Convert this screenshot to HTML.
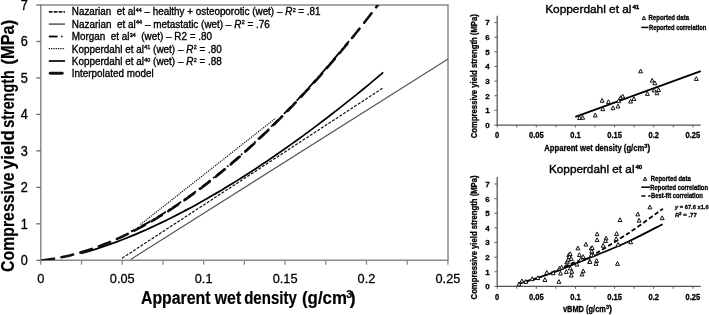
<!DOCTYPE html>
<html><head><meta charset="utf-8"><style>
html,body{margin:0;padding:0;background:#fff;width:709px;height:315px;overflow:hidden}
body{position:relative;font-family:"Liberation Sans",sans-serif}
.i text{stroke:#000;stroke-width:0.3}
</style></head><body>
<svg width="709" height="315" viewBox="0 0 709 315" style="position:absolute;left:0;top:0;will-change:transform">
<defs><clipPath id="pc"><rect x="40.8" y="5" width="407.2" height="255.3"/></clipPath></defs>
<g font-family="Liberation Sans, sans-serif">
<path d="M40.8,5 H448 V260.3 H40.8 Z" fill="none" stroke="#8a8a8a" stroke-width="1.5"/>
<line x1="36.3" y1="260.30" x2="40.8" y2="260.30" stroke="#6a6a6a" stroke-width="1.3"/>
<text transform="translate(27.7,265.20) scale(0.92,1)" font-size="13.8" text-anchor="end" fill="#000" stroke="#000" stroke-width="0.35">0</text>
<line x1="36.3" y1="223.83" x2="40.8" y2="223.83" stroke="#6a6a6a" stroke-width="1.3"/>
<text transform="translate(27.7,228.73) scale(0.92,1)" font-size="13.8" text-anchor="end" fill="#000" stroke="#000" stroke-width="0.35">1</text>
<line x1="36.3" y1="187.36" x2="40.8" y2="187.36" stroke="#6a6a6a" stroke-width="1.3"/>
<text transform="translate(27.7,192.26) scale(0.92,1)" font-size="13.8" text-anchor="end" fill="#000" stroke="#000" stroke-width="0.35">2</text>
<line x1="36.3" y1="150.89" x2="40.8" y2="150.89" stroke="#6a6a6a" stroke-width="1.3"/>
<text transform="translate(27.7,155.79) scale(0.92,1)" font-size="13.8" text-anchor="end" fill="#000" stroke="#000" stroke-width="0.35">3</text>
<line x1="36.3" y1="114.42" x2="40.8" y2="114.42" stroke="#6a6a6a" stroke-width="1.3"/>
<text transform="translate(27.7,119.32) scale(0.92,1)" font-size="13.8" text-anchor="end" fill="#000" stroke="#000" stroke-width="0.35">4</text>
<line x1="36.3" y1="77.95" x2="40.8" y2="77.95" stroke="#6a6a6a" stroke-width="1.3"/>
<text transform="translate(27.7,82.85) scale(0.92,1)" font-size="13.8" text-anchor="end" fill="#000" stroke="#000" stroke-width="0.35">5</text>
<line x1="36.3" y1="41.48" x2="40.8" y2="41.48" stroke="#6a6a6a" stroke-width="1.3"/>
<text transform="translate(27.7,46.38) scale(0.92,1)" font-size="13.8" text-anchor="end" fill="#000" stroke="#000" stroke-width="0.35">6</text>
<line x1="36.3" y1="5.01" x2="40.8" y2="5.01" stroke="#6a6a6a" stroke-width="1.3"/>
<text transform="translate(27.7,9.91) scale(0.92,1)" font-size="13.8" text-anchor="end" fill="#000" stroke="#000" stroke-width="0.35">7</text>
<line x1="40.80" y1="260.3" x2="40.80" y2="264.7" stroke="#8a8a8a" stroke-width="1.3"/>
<line x1="81.51" y1="260.3" x2="81.51" y2="264.7" stroke="#8a8a8a" stroke-width="1.3"/>
<line x1="122.22" y1="260.3" x2="122.22" y2="264.7" stroke="#8a8a8a" stroke-width="1.3"/>
<line x1="162.93" y1="260.3" x2="162.93" y2="264.7" stroke="#8a8a8a" stroke-width="1.3"/>
<line x1="203.64" y1="260.3" x2="203.64" y2="264.7" stroke="#8a8a8a" stroke-width="1.3"/>
<line x1="244.35" y1="260.3" x2="244.35" y2="264.7" stroke="#8a8a8a" stroke-width="1.3"/>
<line x1="285.06" y1="260.3" x2="285.06" y2="264.7" stroke="#8a8a8a" stroke-width="1.3"/>
<line x1="325.77" y1="260.3" x2="325.77" y2="264.7" stroke="#8a8a8a" stroke-width="1.3"/>
<line x1="366.48" y1="260.3" x2="366.48" y2="264.7" stroke="#8a8a8a" stroke-width="1.3"/>
<line x1="407.19" y1="260.3" x2="407.19" y2="264.7" stroke="#8a8a8a" stroke-width="1.3"/>
<line x1="447.90" y1="260.3" x2="447.90" y2="264.7" stroke="#8a8a8a" stroke-width="1.3"/>
<text transform="translate(40.80,283.3) scale(0.94,1)" font-size="13.6" text-anchor="middle" fill="#000" stroke="#000" stroke-width="0.3">0</text>
<text transform="translate(122.22,283.3) scale(0.94,1)" font-size="13.6" text-anchor="middle" fill="#000" stroke="#000" stroke-width="0.3">0.05</text>
<text transform="translate(203.64,283.3) scale(0.94,1)" font-size="13.6" text-anchor="middle" fill="#000" stroke="#000" stroke-width="0.3">0.1</text>
<text transform="translate(285.06,283.3) scale(0.94,1)" font-size="13.6" text-anchor="middle" fill="#000" stroke="#000" stroke-width="0.3">0.15</text>
<text transform="translate(366.48,283.3) scale(0.94,1)" font-size="13.6" text-anchor="middle" fill="#000" stroke="#000" stroke-width="0.3">0.2</text>
<text transform="translate(447.90,283.3) scale(0.94,1)" font-size="13.6" text-anchor="middle" fill="#000" stroke="#000" stroke-width="0.3">0.25</text>
<g transform="translate(13.6,271.3) rotate(-90)" font-size="17.6" font-weight="bold" stroke="#000" stroke-width="0.2"><text x="-0.6" y="0" textLength="99.4" lengthAdjust="spacingAndGlyphs">Compressive</text><text x="101.9" y="0" textLength="39.2" lengthAdjust="spacingAndGlyphs">yield</text><text x="143.6" y="0" textLength="57.4" lengthAdjust="spacingAndGlyphs">strength</text><text x="206.9" y="0" textLength="44.6" lengthAdjust="spacingAndGlyphs">(MPa)</text></g>
<g font-size="17.6" font-weight="bold" stroke="#000" stroke-width="0.2"><text x="141" y="304.2" textLength="100.2" lengthAdjust="spacingAndGlyphs">Apparent wet</text><text x="244.2" y="304.2" textLength="52.6" lengthAdjust="spacingAndGlyphs">density</text><text x="302" y="304.2" textLength="45" lengthAdjust="spacingAndGlyphs">(g/cm</text><text x="346.2" y="297.8" font-size="10.8">3</text><text x="349.8" y="304.2">)</text></g>
<line x1="130.7" y1="259.4" x2="448" y2="58.9" stroke="#555" stroke-width="1.15"/>
<line x1="122.1" y1="258.2" x2="383.2" y2="87.8" stroke="#111" stroke-width="1.2" stroke-dasharray="2.9,1.5"/>
<path d="M80.70,253.45 L85.74,252.07 L90.78,250.60 L95.82,249.05 L100.87,247.43 L105.91,245.73 L110.95,243.95 L115.99,242.11 L121.04,240.20 L126.08,238.22 L131.12,236.17 L136.16,234.07 L141.21,231.90 L146.25,229.68 L151.29,227.39 L156.33,225.05 L161.38,222.66 L166.42,220.20 L171.46,217.70 L176.51,215.14 L181.55,212.53 L186.59,209.87 L191.63,207.16 L196.68,204.40 L201.72,201.59 L206.76,198.73 L211.80,195.83 L216.85,192.88 L221.89,189.88 L226.93,186.84 L231.97,183.75 L237.02,180.62 L242.06,177.44 L247.10,174.22 L252.14,170.96 L257.19,167.66 L262.23,164.31 L267.27,160.92 L272.32,157.50 L277.36,154.03 L282.40,150.52 L287.44,146.97 L292.49,143.38 L297.53,139.76 L302.57,136.09 L307.61,132.39 L312.66,128.65 L317.70,124.87 L322.74,121.05 L327.78,117.20 L332.83,113.30 L337.87,109.38 L342.91,105.41 L347.95,101.41 L353.00,97.38 L358.04,93.31 L363.08,89.20 L368.12,85.06 L373.17,80.89 L378.21,76.68 L383.25,72.44" fill="none" stroke="#000" stroke-width="1.75"/>
<line x1="140.5" y1="224.5" x2="275.5" y2="118.3" stroke="#000" stroke-width="1.2" stroke-dasharray="1.1,1.1"/>
<path d="M40.8,260.3 41.00,260.47 L45.26,259.97 L49.52,259.38 L53.79,258.71 L58.05,257.94 L62.31,257.09 L66.58,256.16 L70.84,255.14 L75.10,254.03 L79.36,252.85 L83.62,251.58 L87.89,250.24 L92.15,248.81 L96.41,247.31 L100.67,245.73 L104.94,244.08 L109.20,242.35 L113.46,240.54 L117.72,238.66 L121.99,236.71 L126.25,234.68 L130.51,232.59 L134.78,230.42 L139.04,228.19 L143.30,225.88 L147.56,223.51 L151.82,221.07 L156.09,218.56 L160.35,215.99 L164.61,213.35 L168.88,210.64 L173.14,207.87 L177.40,205.04 L181.66,202.14 L185.93,199.18 L190.19,196.16 L194.45,193.07 L198.71,189.93 L202.97,186.72 L207.24,183.45 L211.50,180.12 L215.76,176.74 L220.03,173.29 L224.29,169.78 L228.55,166.21 L232.81,162.59 L237.07,158.91 L241.34,155.17 L245.60,151.37 L249.86,147.51 L254.12,143.59 L258.39,139.62 L262.65,135.59 L266.91,131.51 L271.18,127.37 L275.44,123.17 L279.70,118.91 L283.96,114.60 L288.23,110.23 L292.49,105.80 L296.75,101.31 L301.01,96.77 L305.27,92.18 L309.54,87.52 L313.80,82.81 L318.06,78.04 L322.32,73.22 L326.59,68.34 L330.85,63.40 L335.11,58.40 L339.38,53.34 L343.64,48.23 L347.90,43.05 L352.16,37.82 L356.43,32.53 L360.69,27.18 L364.95,21.77 L369.21,16.30 L373.48,10.77 L377.74,5.18 L382.00,-0.47" fill="none" stroke="#111" stroke-width="2.6" stroke-dasharray="11.9,7.6" stroke-dashoffset="-1.5" stroke-linecap="round" clip-path="url(#pc)"/>
<path d="M131.00,231.64 L133.72,230.26 L136.45,228.85 L139.18,227.41 L141.90,225.95 L144.62,224.45 L147.35,222.93 L150.07,221.38 L152.80,219.80 L155.53,218.20 L158.25,216.56 L160.97,214.90 L163.70,213.22 L166.43,211.50 L169.15,209.77 L171.88,208.00 L174.60,206.21 L177.32,204.39 L180.05,202.54 L182.78,200.67 L185.50,198.78 L188.22,196.86 L190.95,194.91 L193.68,192.94 L196.40,190.94 L199.12,188.92 L201.85,186.87 L204.57,184.80 L207.30,182.70 L210.03,180.58 L212.75,178.44 L215.47,176.27 L218.20,174.07 L220.93,171.85 L223.65,169.61 L226.38,167.34 L229.10,165.05 L231.82,162.73 L234.55,160.40 L237.28,158.03 L240.00,155.65 L242.72,153.24 L245.45,150.80 L248.18,148.34 L250.90,145.86 L253.62,143.36 L256.35,140.83 L259.07,138.28 L261.80,135.70 L264.52,133.10 L267.25,130.48 L269.98,127.84 L272.70,125.17 L275.43,122.48 L278.15,119.76 L280.88,117.03 L283.60,114.26 L286.32,111.48 L289.05,108.67 L291.77,105.84 L294.50,102.99 L297.23,100.11 L299.95,97.21 L302.68,94.29 L305.40,91.34 L308.12,88.37 L310.85,85.38 L313.57,82.36 L316.30,79.32 L319.02,76.26 L321.75,73.17 L324.48,70.06 L327.20,66.93 L329.93,63.77 L332.65,60.59 L335.38,57.39 L338.10,54.16 L340.82,50.91 L343.55,47.63 L346.27,44.33 L349.00,41.01" fill="none" stroke="#000" stroke-width="1.8" stroke-dasharray="10,3.5,1.5,3.2" stroke-dashoffset="6.25"/>
<line x1="48.8" y1="11.9" x2="65" y2="11.9" stroke="#222" stroke-width="1.6" stroke-dasharray="3.8,1.1"/>
<line x1="48.8" y1="24.1" x2="65" y2="24.1" stroke="#555" stroke-width="1.5"/>
<line x1="48.8" y1="36.5" x2="57.5" y2="36.5" stroke="#000" stroke-width="1.8"/><line x1="61" y1="36.5" x2="62.5" y2="36.5" stroke="#000" stroke-width="1.5"/>
<line x1="48.8" y1="48.6" x2="65" y2="48.6" stroke="#000" stroke-width="1.4" stroke-dasharray="1.2,1.1"/>
<line x1="48.8" y1="61.0" x2="65" y2="61.0" stroke="#000" stroke-width="1.7"/>
<line x1="50.2" y1="73.3" x2="62.2" y2="73.3" stroke="#111" stroke-width="2.9" stroke-linecap="round"/>
<text x="71.8" y="15.00" font-size="10.3" fill="#000" stroke="#000" stroke-width="0.35" xml:space="preserve" textLength="248.8" lengthAdjust="spacingAndGlyphs">Nazarian  et al<tspan font-size="5.6" dy="-3.3" dx="0.4">44</tspan><tspan dy="3.3"> – healthy + osteoporotic (wet) – </tspan><tspan font-style="italic">R</tspan><tspan font-size="5.6" dy="-3.3" dx="0.4">2</tspan><tspan dy="3.3"> = .81</tspan></text>
<text x="71.8" y="27.50" font-size="10.3" fill="#000" stroke="#000" stroke-width="0.35" xml:space="preserve" textLength="198.0" lengthAdjust="spacingAndGlyphs">Nazarian  et al<tspan font-size="5.6" dy="-3.3" dx="0.4">44</tspan><tspan dy="3.3"> – metastatic (wet) – </tspan><tspan font-style="italic">R</tspan><tspan font-size="5.6" dy="-3.3" dx="0.4">2</tspan><tspan dy="3.3"> = .76</tspan></text>
<text x="71.8" y="40.00" font-size="10.3" fill="#000" stroke="#000" stroke-width="0.35" xml:space="preserve" textLength="140.1" lengthAdjust="spacingAndGlyphs">Morgan  et al<tspan font-size="5.6" dy="-3.3" dx="0.4">34</tspan><tspan dy="3.3">  (wet) – R2 = .80</tspan></text>
<text x="71.8" y="52.50" font-size="10.3" fill="#000" stroke="#000" stroke-width="0.35" xml:space="preserve" textLength="150.0" lengthAdjust="spacingAndGlyphs">Kopperdahl et al<tspan font-size="5.6" dy="-3.3" dx="0.4">41</tspan><tspan dy="3.3"> (wet) – </tspan><tspan font-style="italic">R</tspan><tspan font-size="5.6" dy="-3.3" dx="0.4">2</tspan><tspan dy="3.3"> = .80</tspan></text>
<text x="71.8" y="64.95" font-size="10.3" fill="#000" stroke="#000" stroke-width="0.35" xml:space="preserve" textLength="150.0" lengthAdjust="spacingAndGlyphs">Kopperdahl et al<tspan font-size="5.6" dy="-3.3" dx="0.4">40</tspan><tspan dy="3.3"> (wet) – </tspan><tspan font-style="italic">R</tspan><tspan font-size="5.6" dy="-3.3" dx="0.4">2</tspan><tspan dy="3.3"> = .88</tspan></text>
<text x="71.8" y="77.40" font-size="10.3" fill="#000" stroke="#000" stroke-width="0.35" xml:space="preserve" textLength="81.8" lengthAdjust="spacingAndGlyphs">Interpolated model</text>
<g class="i">
<path d="M497.2,15.7 V125.0 H700.65" fill="none" stroke="#555" stroke-width="1.25"/>
<line x1="494.3" y1="125.00" x2="497.2" y2="125.00" stroke="#555" stroke-width="0.9"/>
<text x="489.7" y="127.90" font-size="8" font-weight="bold" text-anchor="end">0</text>
<line x1="494.3" y1="110.37" x2="497.2" y2="110.37" stroke="#555" stroke-width="0.9"/>
<text x="489.7" y="113.27" font-size="8" font-weight="bold" text-anchor="end">1</text>
<line x1="494.3" y1="95.74" x2="497.2" y2="95.74" stroke="#555" stroke-width="0.9"/>
<text x="489.7" y="98.64" font-size="8" font-weight="bold" text-anchor="end">2</text>
<line x1="494.3" y1="81.11" x2="497.2" y2="81.11" stroke="#555" stroke-width="0.9"/>
<text x="489.7" y="84.01" font-size="8" font-weight="bold" text-anchor="end">3</text>
<line x1="494.3" y1="66.48" x2="497.2" y2="66.48" stroke="#555" stroke-width="0.9"/>
<text x="489.7" y="69.38" font-size="8" font-weight="bold" text-anchor="end">4</text>
<line x1="494.3" y1="51.85" x2="497.2" y2="51.85" stroke="#555" stroke-width="0.9"/>
<text x="489.7" y="54.75" font-size="8" font-weight="bold" text-anchor="end">5</text>
<line x1="494.3" y1="37.22" x2="497.2" y2="37.22" stroke="#555" stroke-width="0.9"/>
<text x="489.7" y="40.12" font-size="8" font-weight="bold" text-anchor="end">6</text>
<line x1="494.3" y1="22.59" x2="497.2" y2="22.59" stroke="#555" stroke-width="0.9"/>
<text x="489.7" y="25.49" font-size="8" font-weight="bold" text-anchor="end">7</text>
<line x1="497.20" y1="125.0" x2="497.20" y2="127.4" stroke="#555" stroke-width="0.9"/>
<line x1="516.76" y1="125.0" x2="516.76" y2="127.4" stroke="#555" stroke-width="0.9"/>
<line x1="536.33" y1="125.0" x2="536.33" y2="127.4" stroke="#555" stroke-width="0.9"/>
<line x1="555.89" y1="125.0" x2="555.89" y2="127.4" stroke="#555" stroke-width="0.9"/>
<line x1="575.45" y1="125.0" x2="575.45" y2="127.4" stroke="#555" stroke-width="0.9"/>
<line x1="595.01" y1="125.0" x2="595.01" y2="127.4" stroke="#555" stroke-width="0.9"/>
<line x1="614.58" y1="125.0" x2="614.58" y2="127.4" stroke="#555" stroke-width="0.9"/>
<line x1="634.14" y1="125.0" x2="634.14" y2="127.4" stroke="#555" stroke-width="0.9"/>
<line x1="653.70" y1="125.0" x2="653.70" y2="127.4" stroke="#555" stroke-width="0.9"/>
<line x1="673.26" y1="125.0" x2="673.26" y2="127.4" stroke="#555" stroke-width="0.9"/>
<line x1="692.83" y1="125.0" x2="692.83" y2="127.4" stroke="#555" stroke-width="0.9"/>
<text transform="translate(497.20,138.10) scale(0.9,1)" font-size="8.4" font-weight="bold" text-anchor="middle">0</text>
<text transform="translate(536.33,138.10) scale(0.9,1)" font-size="8.4" font-weight="bold" text-anchor="middle">0.05</text>
<text transform="translate(575.45,138.10) scale(0.9,1)" font-size="8.4" font-weight="bold" text-anchor="middle">0.1</text>
<text transform="translate(614.58,138.10) scale(0.9,1)" font-size="8.4" font-weight="bold" text-anchor="middle">0.15</text>
<text transform="translate(653.70,138.10) scale(0.9,1)" font-size="8.4" font-weight="bold" text-anchor="middle">0.2</text>
<text transform="translate(692.83,138.10) scale(0.9,1)" font-size="8.4" font-weight="bold" text-anchor="middle">0.25</text>
<text transform="translate(477.2,138.2) rotate(-90)" font-size="8.5" font-weight="bold" textLength="124" lengthAdjust="spacingAndGlyphs">Compressive yield strength (MPa)</text>
<text x="545.2" y="12.8" font-size="11.8" fill="#000" style="stroke:#000;stroke-width:0.4"><tspan textLength="86.3" lengthAdjust="spacingAndGlyphs">Kopperdahl et al</tspan><tspan font-size="6.2" dy="-4.0" dx="0.9" font-weight="bold">41</tspan></text>
<text x="544.3" y="150.50" font-size="9" font-weight="bold"><tspan textLength="100" lengthAdjust="spacingAndGlyphs">Apparent wet density (g/cm</tspan><tspan font-size="5.5" dy="-3">3</tspan><tspan dy="3">)</tspan></text>
<line x1="575.3" y1="116.9" x2="700.8" y2="71.1" stroke="#000" stroke-width="1.8"/>
<path d="M643.90,16.17 L645.60,19.53 L642.20,19.53 Z" fill="#fff" stroke="#111" stroke-width="1"/>
<text x="648.5" y="20.2" font-size="6.6" font-weight="bold" textLength="40.5" lengthAdjust="spacingAndGlyphs">Reported data</text>
<line x1="641.3" y1="27.4" x2="648.5" y2="27.4" stroke="#000" stroke-width="1.5"/>
<text x="649" y="29.7" font-size="6.6" font-weight="bold" textLength="57.4" lengthAdjust="spacingAndGlyphs">Reported correlation</text>
<path d="M579.50,115.75 L581.45,119.55 L577.55,119.55 Z" fill="#fff" stroke="#111" stroke-width="1"/>
<path d="M582.70,115.45 L584.65,119.25 L580.75,119.25 Z" fill="#fff" stroke="#111" stroke-width="1"/>
<path d="M595.20,113.15 L597.15,116.95 L593.25,116.95 Z" fill="#fff" stroke="#111" stroke-width="1"/>
<path d="M602.10,98.45 L604.05,102.25 L600.15,102.25 Z" fill="#fff" stroke="#111" stroke-width="1"/>
<path d="M602.80,106.85 L604.75,110.66 L600.85,110.66 Z" fill="#fff" stroke="#111" stroke-width="1"/>
<path d="M608.40,99.75 L610.35,103.55 L606.45,103.55 Z" fill="#fff" stroke="#111" stroke-width="1"/>
<path d="M613.00,105.85 L614.95,109.66 L611.05,109.66 Z" fill="#fff" stroke="#111" stroke-width="1"/>
<path d="M618.00,104.15 L619.95,107.95 L616.05,107.95 Z" fill="#fff" stroke="#111" stroke-width="1"/>
<path d="M618.70,98.85 L620.65,102.66 L616.75,102.66 Z" fill="#fff" stroke="#111" stroke-width="1"/>
<path d="M620.60,95.65 L622.55,99.45 L618.65,99.45 Z" fill="#fff" stroke="#111" stroke-width="1"/>
<path d="M622.70,94.15 L624.65,97.95 L620.75,97.95 Z" fill="#fff" stroke="#111" stroke-width="1"/>
<path d="M630.60,99.25 L632.55,103.05 L628.65,103.05 Z" fill="#fff" stroke="#111" stroke-width="1"/>
<path d="M633.90,96.65 L635.85,100.45 L631.95,100.45 Z" fill="#fff" stroke="#111" stroke-width="1"/>
<path d="M640.60,69.05 L642.55,72.85 L638.65,72.85 Z" fill="#fff" stroke="#111" stroke-width="1"/>
<path d="M647.40,91.55 L649.35,95.35 L645.45,95.35 Z" fill="#fff" stroke="#111" stroke-width="1"/>
<path d="M652.20,78.25 L654.15,82.05 L650.25,82.05 Z" fill="#fff" stroke="#111" stroke-width="1"/>
<path d="M654.90,80.95 L656.85,84.75 L652.95,84.75 Z" fill="#fff" stroke="#111" stroke-width="1"/>
<path d="M654.10,88.05 L656.05,91.85 L652.15,91.85 Z" fill="#fff" stroke="#111" stroke-width="1"/>
<path d="M657.00,90.95 L658.95,94.75 L655.05,94.75 Z" fill="#fff" stroke="#111" stroke-width="1"/>
<path d="M658.60,87.75 L660.55,91.55 L656.65,91.55 Z" fill="#fff" stroke="#111" stroke-width="1"/>
<path d="M696.30,76.65 L698.25,80.45 L694.35,80.45 Z" fill="#fff" stroke="#111" stroke-width="1"/>
<path d="M497.2,177.1 V286.4 H700.65" fill="none" stroke="#555" stroke-width="1.25"/>
<line x1="494.3" y1="286.40" x2="497.2" y2="286.40" stroke="#555" stroke-width="0.9"/>
<text x="489.7" y="289.30" font-size="8" font-weight="bold" text-anchor="end">0</text>
<line x1="494.3" y1="271.77" x2="497.2" y2="271.77" stroke="#555" stroke-width="0.9"/>
<text x="489.7" y="274.67" font-size="8" font-weight="bold" text-anchor="end">1</text>
<line x1="494.3" y1="257.14" x2="497.2" y2="257.14" stroke="#555" stroke-width="0.9"/>
<text x="489.7" y="260.04" font-size="8" font-weight="bold" text-anchor="end">2</text>
<line x1="494.3" y1="242.51" x2="497.2" y2="242.51" stroke="#555" stroke-width="0.9"/>
<text x="489.7" y="245.41" font-size="8" font-weight="bold" text-anchor="end">3</text>
<line x1="494.3" y1="227.88" x2="497.2" y2="227.88" stroke="#555" stroke-width="0.9"/>
<text x="489.7" y="230.78" font-size="8" font-weight="bold" text-anchor="end">4</text>
<line x1="494.3" y1="213.25" x2="497.2" y2="213.25" stroke="#555" stroke-width="0.9"/>
<text x="489.7" y="216.15" font-size="8" font-weight="bold" text-anchor="end">5</text>
<line x1="494.3" y1="198.62" x2="497.2" y2="198.62" stroke="#555" stroke-width="0.9"/>
<text x="489.7" y="201.52" font-size="8" font-weight="bold" text-anchor="end">6</text>
<line x1="494.3" y1="183.99" x2="497.2" y2="183.99" stroke="#555" stroke-width="0.9"/>
<text x="489.7" y="186.89" font-size="8" font-weight="bold" text-anchor="end">7</text>
<line x1="497.20" y1="286.4" x2="497.20" y2="288.79999999999995" stroke="#555" stroke-width="0.9"/>
<line x1="516.76" y1="286.4" x2="516.76" y2="288.79999999999995" stroke="#555" stroke-width="0.9"/>
<line x1="536.33" y1="286.4" x2="536.33" y2="288.79999999999995" stroke="#555" stroke-width="0.9"/>
<line x1="555.89" y1="286.4" x2="555.89" y2="288.79999999999995" stroke="#555" stroke-width="0.9"/>
<line x1="575.45" y1="286.4" x2="575.45" y2="288.79999999999995" stroke="#555" stroke-width="0.9"/>
<line x1="595.01" y1="286.4" x2="595.01" y2="288.79999999999995" stroke="#555" stroke-width="0.9"/>
<line x1="614.58" y1="286.4" x2="614.58" y2="288.79999999999995" stroke="#555" stroke-width="0.9"/>
<line x1="634.14" y1="286.4" x2="634.14" y2="288.79999999999995" stroke="#555" stroke-width="0.9"/>
<line x1="653.70" y1="286.4" x2="653.70" y2="288.79999999999995" stroke="#555" stroke-width="0.9"/>
<line x1="673.26" y1="286.4" x2="673.26" y2="288.79999999999995" stroke="#555" stroke-width="0.9"/>
<line x1="692.83" y1="286.4" x2="692.83" y2="288.79999999999995" stroke="#555" stroke-width="0.9"/>
<text transform="translate(497.20,299.50) scale(0.9,1)" font-size="8.4" font-weight="bold" text-anchor="middle">0</text>
<text transform="translate(536.33,299.50) scale(0.9,1)" font-size="8.4" font-weight="bold" text-anchor="middle">0.05</text>
<text transform="translate(575.45,299.50) scale(0.9,1)" font-size="8.4" font-weight="bold" text-anchor="middle">0.1</text>
<text transform="translate(614.58,299.50) scale(0.9,1)" font-size="8.4" font-weight="bold" text-anchor="middle">0.15</text>
<text transform="translate(653.70,299.50) scale(0.9,1)" font-size="8.4" font-weight="bold" text-anchor="middle">0.2</text>
<text transform="translate(692.83,299.50) scale(0.9,1)" font-size="8.4" font-weight="bold" text-anchor="middle">0.25</text>
<text transform="translate(477.2,299.4) rotate(-90)" font-size="8.5" font-weight="bold" textLength="124" lengthAdjust="spacingAndGlyphs">Compressive yield strength (MPa)</text>
<text x="549" y="173.2" font-size="11.8" fill="#000" style="stroke:#000;stroke-width:0.4"><tspan textLength="85.5" lengthAdjust="spacingAndGlyphs">Kopperdahl et al</tspan><tspan font-size="6.2" dy="-4.0" dx="0.9" font-weight="bold">40</tspan></text>
<text x="562.9" y="311.90" font-size="9" font-weight="bold"><tspan textLength="43" lengthAdjust="spacingAndGlyphs">vBMD (g/cm</tspan><tspan font-size="5.5" dy="-3">3</tspan><tspan dy="3">)</tspan></text>
<path d="M518.30,283.30 C521.42,282.42 530.88,279.90 537.00,278.00 C543.12,276.10 548.67,274.30 555.00,271.90 C561.33,269.50 568.33,266.30 575.00,263.60 C581.67,260.90 586.17,259.35 595.00,255.70 C603.83,252.05 616.73,246.95 628.00,241.70 C639.27,236.45 656.83,227.12 662.60,224.20" fill="none" stroke="#000" stroke-width="1.8"/>
<path d="M518.30,284.00 C521.42,283.05 530.88,280.47 537.00,278.30 C543.12,276.13 548.67,273.72 555.00,271.00 C561.33,268.28 569.50,264.18 575.00,262.00 C580.50,259.82 579.17,262.65 588.00,257.90 C596.83,253.15 615.52,241.70 628.00,233.50 C640.48,225.30 657.08,212.83 662.90,208.70" fill="none" stroke="#000" stroke-width="1.8" stroke-dasharray="4.5,2.5"/>
<path d="M645.00,176.97 L646.70,180.33 L643.30,180.33 Z" fill="#fff" stroke="#111" stroke-width="1"/>
<text x="650.8" y="181.1" font-size="6.6" font-weight="bold" textLength="39.9" lengthAdjust="spacingAndGlyphs">Reported data</text>
<line x1="641.3" y1="187.2" x2="650.1" y2="187.2" stroke="#000" stroke-width="1.5"/>
<text x="650.3" y="189.5" font-size="6.6" font-weight="bold" textLength="57.7" lengthAdjust="spacingAndGlyphs">Reported correlation</text>
<line x1="641.3" y1="196" x2="645.5" y2="196" stroke="#000" stroke-width="1.5"/><line x1="648.2" y1="196" x2="650.6" y2="196" stroke="#000" stroke-width="1.5"/>
<text x="651" y="198.3" font-size="6.6" font-weight="bold" textLength="51.8" lengthAdjust="spacingAndGlyphs">Best-fit correlation</text>
<text x="675" y="208.8" font-size="6" font-weight="bold" textLength="33.6" lengthAdjust="spacingAndGlyphs"><tspan font-style="italic">y</tspan> = 67.6 x1.6</text>
<text x="675" y="217.4" font-size="6" font-weight="bold"><tspan font-style="italic">R</tspan><tspan font-size="4" dy="-2">2</tspan><tspan dy="2"> = .77</tspan></text>
<path d="M519.00,282.05 L520.95,285.86 L517.05,285.86 Z" fill="#fff" stroke="#111" stroke-width="1"/>
<path d="M521.90,278.94 L523.85,282.75 L519.95,282.75 Z" fill="#fff" stroke="#111" stroke-width="1"/>
<path d="M525.90,279.55 L527.85,283.36 L523.95,283.36 Z" fill="#fff" stroke="#111" stroke-width="1"/>
<path d="M532.20,276.84 L534.15,280.65 L530.25,280.65 Z" fill="#fff" stroke="#111" stroke-width="1"/>
<path d="M537.80,275.75 L539.75,279.56 L535.85,279.56 Z" fill="#fff" stroke="#111" stroke-width="1"/>
<path d="M544.90,277.64 L546.85,281.45 L542.95,281.45 Z" fill="#fff" stroke="#111" stroke-width="1"/>
<path d="M546.80,270.44 L548.75,274.25 L544.85,274.25 Z" fill="#fff" stroke="#111" stroke-width="1"/>
<path d="M553.20,270.94 L555.15,274.75 L551.25,274.75 Z" fill="#fff" stroke="#111" stroke-width="1"/>
<path d="M558.90,279.55 L560.85,283.36 L556.95,283.36 Z" fill="#fff" stroke="#111" stroke-width="1"/>
<path d="M560.50,271.25 L562.45,275.06 L558.55,275.06 Z" fill="#fff" stroke="#111" stroke-width="1"/>
<path d="M559.50,266.25 L561.45,270.06 L557.55,270.06 Z" fill="#fff" stroke="#111" stroke-width="1"/>
<path d="M561.60,265.25 L563.55,269.06 L559.65,269.06 Z" fill="#fff" stroke="#111" stroke-width="1"/>
<path d="M566.30,269.64 L568.25,273.45 L564.35,273.45 Z" fill="#fff" stroke="#111" stroke-width="1"/>
<path d="M566.80,260.14 L568.75,263.95 L564.85,263.95 Z" fill="#fff" stroke="#111" stroke-width="1"/>
<path d="M568.70,252.94 L570.65,256.75 L566.75,256.75 Z" fill="#fff" stroke="#111" stroke-width="1"/>
<path d="M567.40,259.34 L569.35,263.15 L565.45,263.15 Z" fill="#fff" stroke="#111" stroke-width="1"/>
<path d="M568.30,257.44 L570.25,261.25 L566.35,261.25 Z" fill="#fff" stroke="#111" stroke-width="1"/>
<path d="M569.30,254.64 L571.25,258.45 L567.35,258.45 Z" fill="#fff" stroke="#111" stroke-width="1"/>
<path d="M570.20,251.75 L572.15,255.56 L568.25,255.56 Z" fill="#fff" stroke="#111" stroke-width="1"/>
<path d="M571.20,256.55 L573.15,260.36 L569.25,260.36 Z" fill="#fff" stroke="#111" stroke-width="1"/>
<path d="M570.20,266.05 L572.15,269.86 L568.25,269.86 Z" fill="#fff" stroke="#111" stroke-width="1"/>
<path d="M571.80,269.44 L573.75,273.25 L569.85,273.25 Z" fill="#fff" stroke="#111" stroke-width="1"/>
<path d="M571.20,273.25 L573.15,277.06 L569.25,277.06 Z" fill="#fff" stroke="#111" stroke-width="1"/>
<path d="M576.90,262.25 L578.85,266.06 L574.95,266.06 Z" fill="#fff" stroke="#111" stroke-width="1"/>
<path d="M577.90,246.04 L579.85,249.85 L575.95,249.85 Z" fill="#fff" stroke="#111" stroke-width="1"/>
<path d="M579.40,252.75 L581.35,256.56 L577.45,256.56 Z" fill="#fff" stroke="#111" stroke-width="1"/>
<path d="M580.70,257.44 L582.65,261.25 L578.75,261.25 Z" fill="#fff" stroke="#111" stroke-width="1"/>
<path d="M583.20,268.94 L585.15,272.75 L581.25,272.75 Z" fill="#fff" stroke="#111" stroke-width="1"/>
<path d="M582.00,272.14 L583.95,275.95 L580.05,275.95 Z" fill="#fff" stroke="#111" stroke-width="1"/>
<path d="M583.20,254.64 L585.15,258.45 L581.25,258.45 Z" fill="#fff" stroke="#111" stroke-width="1"/>
<path d="M585.90,242.25 L587.85,246.06 L583.95,246.06 Z" fill="#fff" stroke="#111" stroke-width="1"/>
<path d="M589.70,259.34 L591.65,263.15 L587.75,263.15 Z" fill="#fff" stroke="#111" stroke-width="1"/>
<path d="M591.20,246.04 L593.15,249.85 L589.25,249.85 Z" fill="#fff" stroke="#111" stroke-width="1"/>
<path d="M592.10,250.84 L594.05,254.66 L590.15,254.66 Z" fill="#fff" stroke="#111" stroke-width="1"/>
<path d="M593.10,252.75 L595.05,256.56 L591.15,256.56 Z" fill="#fff" stroke="#111" stroke-width="1"/>
<path d="M620.00,217.75 L621.95,221.56 L618.05,221.56 Z" fill="#fff" stroke="#111" stroke-width="1"/>
<path d="M597.10,231.94 L599.05,235.75 L595.15,235.75 Z" fill="#fff" stroke="#111" stroke-width="1"/>
<path d="M597.10,237.75 L599.05,241.56 L595.15,241.56 Z" fill="#fff" stroke="#111" stroke-width="1"/>
<path d="M606.10,236.14 L608.05,239.95 L604.15,239.95 Z" fill="#fff" stroke="#111" stroke-width="1"/>
<path d="M605.50,238.64 L607.45,242.45 L603.55,242.45 Z" fill="#fff" stroke="#111" stroke-width="1"/>
<path d="M603.20,243.44 L605.15,247.25 L601.25,247.25 Z" fill="#fff" stroke="#111" stroke-width="1"/>
<path d="M616.60,231.64 L618.55,235.45 L614.65,235.45 Z" fill="#fff" stroke="#111" stroke-width="1"/>
<path d="M616.20,236.75 L618.15,240.56 L614.25,240.56 Z" fill="#fff" stroke="#111" stroke-width="1"/>
<path d="M618.10,242.44 L620.05,246.25 L616.15,246.25 Z" fill="#fff" stroke="#111" stroke-width="1"/>
<path d="M592.20,245.75 L594.15,249.56 L590.25,249.56 Z" fill="#fff" stroke="#111" stroke-width="1"/>
<path d="M591.80,249.14 L593.75,252.95 L589.85,252.95 Z" fill="#fff" stroke="#111" stroke-width="1"/>
<path d="M591.40,252.94 L593.35,256.75 L589.45,256.75 Z" fill="#fff" stroke="#111" stroke-width="1"/>
<path d="M589.90,259.64 L591.85,263.45 L587.95,263.45 Z" fill="#fff" stroke="#111" stroke-width="1"/>
<path d="M596.60,258.64 L598.55,262.45 L594.65,262.45 Z" fill="#fff" stroke="#111" stroke-width="1"/>
<path d="M596.00,261.55 L597.95,265.36 L594.05,265.36 Z" fill="#fff" stroke="#111" stroke-width="1"/>
<path d="M617.50,261.55 L619.45,265.36 L615.55,265.36 Z" fill="#fff" stroke="#111" stroke-width="1"/>
<path d="M649.90,205.04 L651.85,208.85 L647.95,208.85 Z" fill="#fff" stroke="#111" stroke-width="1"/>
<path d="M637.80,212.04 L639.75,215.85 L635.85,215.85 Z" fill="#fff" stroke="#111" stroke-width="1"/>
<path d="M639.10,218.34 L641.05,222.16 L637.15,222.16 Z" fill="#fff" stroke="#111" stroke-width="1"/>
<path d="M662.20,215.84 L664.15,219.66 L660.25,219.66 Z" fill="#fff" stroke="#111" stroke-width="1"/>
<path d="M630.70,239.94 L632.65,243.75 L628.75,243.75 Z" fill="#fff" stroke="#111" stroke-width="1"/>
</g>
</g></svg>
</body></html>
